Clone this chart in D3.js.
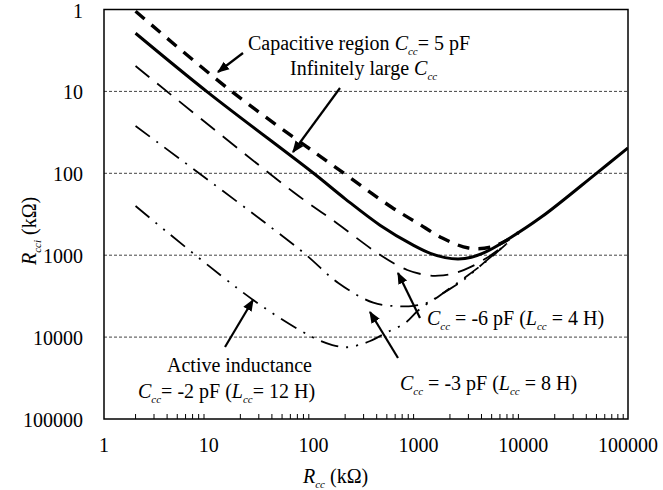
<!DOCTYPE html>
<html>
<head>
<meta charset="utf-8">
<script src="https://cdn.jsdelivr.net/npm/d3@7/dist/d3.min.js"></script>
</head>
<body style="margin:0">
<div id="chart"></div>
<script>
  // decade ticks on both log axes
  var xTicks = [1, 10, 100, 1000, 10000, 100000]
  var yTicks = [1, 10, 100, 1000, 10000, 100000]
  var gridValues = [10, 100, 1000, 10000]

  // [Rcc (kOhm), Rcci (kOhm)]
  var capacitive5pF = [[2, 1.05], [16.5, 10], [195, 100], [551, 258], [977, 404], [1690, 617],
    [3000, 817], [4860, 800], [7080, 650], [9000, 530]]
  var infiniteC = [[2, 1.95], [10, 10.5], [100, 100], [200, 205], [430, 430], [900, 760],
    [1300, 950], [1800, 1070], [2400, 1110], [3200, 1060], [4500, 900], [6500, 690],
    [15000, 340], [50000, 100], [100000, 49]]
  var minus6pF = [[2, 4.9], [64, 169], [161, 393], [433, 995], [783, 1517], [1200, 1750],
    [1550, 1780], [2250, 1650], [3200, 1380], [4800, 1020], [7000, 720]]
  var minus3pF = [[2, 26.5], [74.5, 864], [172, 2183], [371, 3800], [630, 4200], [900, 4150],
    [1290, 3700], [1890, 2660], [3000, 1745], [4360, 1210], [7000, 720]]
  var minus2pF = [[2, 251], [26.5, 3520], [97, 9980], [151, 12500], [210, 13300], [291, 12150],
    [347, 11170], [516, 8600], [750, 6700], [1000, 4700], [1620, 3060], [2690, 2010],
    [4400, 1180], [7000, 720]]

  var width = 663
  var height = 490
  var margin = { top: 9.5, right: 35, bottom: 71, left: 104 }
  var fontSize = 20
  var fontFace = '"Liberation Serif", "Times New Roman", monospace'
  var unit = '  (k\u03A9)'

  var svg = d3.select('#chart').append('svg')
    .attr('width', width)
    .attr('height', height)
    .style('display', 'block')

  var defs = svg.append('defs')
  defs.append('clipPath').attr('id', 'plotClip')
    .append('rect')
    .attr('x', margin.left).attr('y', margin.top)
    .attr('width', width - margin.left - margin.right)
    .attr('height', height - margin.top - margin.bottom)
  defs.append('marker')
    .attr('id', 'arrowHead')
    .attr('viewBox', '0 0 10 10')
    .attr('refX', 9).attr('refY', 5)
    .attr('markerWidth', 12).attr('markerHeight', 12)
    .attr('markerUnits', 'userSpaceOnUse')
    .attr('orient', 'auto')
    .append('path')
    .attr('d', 'M0,1 L10,5 L0,9 Z')
    .attr('fill', '#000')

  var xScale = d3.scaleLog()
    .domain([1, 100000])
    .range([margin.left, width - margin.right])

  // Rcci grows downward
  var yScale = d3.scaleLog()
    .domain([1, 100000])
    .range([margin.top, height - margin.bottom])

  // dashed gridlines
  svg.append('g').selectAll('line')
    .data(gridValues)
    .enter()
    .append('line')
    .attr('x1', margin.left)
    .attr('x2', width - margin.right)
    .attr('y1', function (d) { return yScale(d) })
    .attr('y2', function (d) { return yScale(d) })
    .attr('stroke', '#444')
    .attr('stroke-width', 1)
    .attr('stroke-dasharray', '3,2')

  // minor ticks 2..9 on the bottom edge, pointing inward
  var minorTicks = []
  xTicks.slice(0, -1).forEach(function (t) {
    for (var k = 2; k <= 9; k++) minorTicks.push(t * k)
  })
  svg.append('g').selectAll('line')
    .data(minorTicks)
    .enter()
    .append('line')
    .attr('x1', function (d) { return xScale(d) })
    .attr('x2', function (d) { return xScale(d) })
    .attr('y1', height - margin.bottom)
    .attr('y2', height - margin.bottom - 5)
    .attr('stroke', '#000')
    .attr('stroke-width', 1)

  // curves
  var line = d3.line()
    .x(function (d) { return xScale(d[0]) })
    .y(function (d) { return yScale(d[1]) })
    .curve(d3.curveCatmullRom.alpha(0.5))

  var curves = [
    { data: minus2pF, width: 1.8, dash: '18,8,2,8,2,8' },
    { data: minus3pF, width: 1.8, dash: '18,8,2,8' },
    { data: minus6pF, width: 1.8, dash: '18,10' },
    { data: infiniteC, width: 3, dash: null },
    { data: capacitive5pF, width: 3.4, dash: '12,9' }
  ]

  svg.append('g').attr('clip-path', 'url(#plotClip)')
    .selectAll('path')
    .data(curves)
    .enter()
    .append('path')
    .attr('d', function (d) { return line(d.data) })
    .attr('fill', 'none')
    .attr('stroke', '#000')
    .attr('stroke-width', function (d) { return d.width })
    .attr('stroke-dasharray', function (d) { return d.dash })

  // frame
  svg.append('rect')
    .attr('x', margin.left)
    .attr('y', margin.top)
    .attr('width', width - margin.left - margin.right)
    .attr('height', height - margin.top - margin.bottom)
    .attr('fill', 'none')
    .attr('stroke', '#000')
    .attr('stroke-width', 1.5)

  // tick labels as plain text, placed by the scales
  svg.append('g').selectAll('text')
    .data(xTicks)
    .enter()
    .append('text')
    .attr('x', function (d) { return xScale(d) })
    .attr('y', 452)
    .attr('text-anchor', 'middle')
    .attr('font-size', fontSize)
    .style('font-family', fontFace)
    .text(function (d) { return String(d) })

  svg.append('g').selectAll('text')
    .data(yTicks)
    .enter()
    .append('text')
    .attr('x', 83)
    .attr('y', function (d) { return yScale(d) + 8 })
    .attr('text-anchor', 'end')
    .attr('font-size', fontSize)
    .style('font-family', fontFace)
    .text(function (d) { return String(d) })

  // text with italic symbols and small subscripts
  function richText (x, y, parts, size, transform) {
    var t = svg.append('text')
      .attr('x', x).attr('y', y)
      .attr('font-size', size)
      .style('font-family', fontFace)
    if (transform) t.attr('transform', transform)
    var shift = 0
    parts.forEach(function (p) {
      var s = t.append('tspan').text(p.t)
      if (p.i) s.attr('font-style', 'italic')
      if (p.sub) {
        s.attr('font-size', size * 0.55).attr('font-style', 'italic').attr('dy', 5)
        shift = 5
      } else if (shift) {
        s.attr('dy', -shift)
        shift = 0
      }
    })
    return t
  }

  var annSize = 20

  richText(303, 483, [{ t: 'R', i: true }, { t: 'cc', sub: true }, { t: unit }], fontSize)
  richText(0, 0, [{ t: 'R', i: true }, { t: 'cci', sub: true }, { t: unit }], fontSize,
    'translate(36,265) rotate(-90)')

  richText(248, 50, [{ t: 'Capacitive region ' }, { t: 'C', i: true }, { t: 'cc', sub: true },
    { t: '= 5 pF' }], annSize)
  richText(290, 75, [{ t: 'Infinitely large ' }, { t: 'C', i: true }, { t: 'cc', sub: true }], annSize)
  richText(167, 372, [{ t: 'Active inductance' }], annSize)
  richText(138, 398, [{ t: 'C', i: true }, { t: 'cc', sub: true }, { t: '= -2 pF  (' },
    { t: 'L', i: true }, { t: 'cc', sub: true }, { t: '= 12 H)' }], annSize)
  richText(427, 325, [{ t: 'C', i: true }, { t: 'cc', sub: true }, { t: ' = -6 pF (' },
    { t: 'L', i: true }, { t: 'cc', sub: true }, { t: ' = 4 H)' }], annSize)
  richText(400, 390, [{ t: 'C', i: true }, { t: 'cc', sub: true }, { t: ' = -3 pF (' },
    { t: 'L', i: true }, { t: 'cc', sub: true }, { t: ' = 8 H)' }], annSize)

  // pointers from notes to curves
  var arrows = [
    [243, 53, 218, 72],
    [340, 88, 293, 152],
    [225, 347, 253, 300],
    [420, 318, 398, 273],
    [398, 358, 370, 312]
  ]
  svg.append('g').selectAll('line')
    .data(arrows)
    .enter()
    .append('line')
    .attr('x1', function (d) { return d[0] })
    .attr('y1', function (d) { return d[1] })
    .attr('x2', function (d) { return d[2] })
    .attr('y2', function (d) { return d[3] })
    .attr('stroke', '#000')
    .attr('stroke-width', 2.2)
    .attr('marker-end', 'url(#arrowHead)')
</script>
</body>
</html>
